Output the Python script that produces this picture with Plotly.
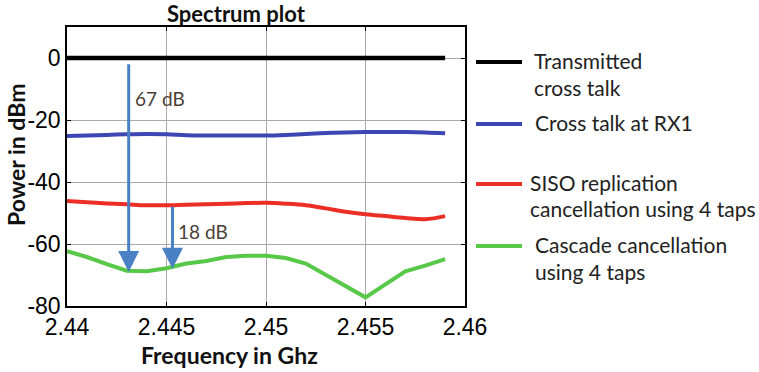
import plotly.graph_objects as go

# ---- data ----
freq_tx = [2.44, 2.445, 2.45, 2.455, 2.459]
p_tx = [0, 0, 0, 0, 0]

freq = [2.44, 2.441, 2.442, 2.443, 2.444, 2.445, 2.446, 2.447, 2.448, 2.449,
        2.45, 2.451, 2.452, 2.453, 2.454, 2.455, 2.456, 2.457, 2.458, 2.459]
p_rx1 = [-25.2, -25.0, -24.8, -24.6, -24.5, -24.6, -24.9, -25.0, -25.0, -25.0,
         -25.0, -24.8, -24.5, -24.2, -24.0, -23.9, -23.9, -23.9, -24.0, -24.3]
p_siso = [-46.1, -46.5, -46.9, -47.2, -47.5, -47.5, -47.3, -47.2, -47.0, -46.8,
          -46.7, -47.0, -47.5, -48.5, -49.6, -50.4, -51.0, -51.6, -52.0, -51.0]
p_cascade = [-62.3, -64.2, -66.5, -68.6, -68.8, -67.8, -66.3, -65.5, -64.2, -63.8,
             -63.8, -64.5, -66.3, -70.0, -73.6, -77.2, -73.0, -68.8, -67.0, -64.9]

series_names = ["Transmitted<br>cross talk", "Cross talk at RX1",
                "SISO replication<br>cancellation using 4 taps",
                "Cascade cancellation<br>using 4 taps"]
series_colors = ["#000000", "#3d47b3", "#ec2f26", "#58c848"]

x_ticks = [2.44, 2.445, 2.45, 2.455, 2.46]
x_tick_text = ["2.44", "2.445", "2.45", "2.455", "2.46"]
y_ticks = [0, -20, -40, -60, -80]
y_tick_text = ["0", "-20", "-40", "-60", "-80"]

arrow_x = [2.4431, 2.4453]
arrow_from = [-1.5, -47.5]
arrow_to = [-69.0, -68.0]
arrow_labels = ["67 dB", "18 dB"]
label_y = [-13.0, -56.0]

# ---- figure ----
W, H = 759, 372
L, R, T, B = 67, 465, 27, 306

fig = go.Figure()
fig.add_trace(go.Scatter(x=freq_tx, y=p_tx, mode="lines",
                         line=dict(color=series_colors[0], width=4.5), name=series_names[0]))
fig.add_trace(go.Scatter(x=freq, y=p_rx1, mode="lines", line_shape="spline",
                         line=dict(color=series_colors[1], width=4), name=series_names[1]))
fig.add_trace(go.Scatter(x=freq, y=p_siso, mode="lines", line_shape="spline",
                         line=dict(color=series_colors[2], width=4), name=series_names[2]))
fig.add_trace(go.Scatter(x=freq, y=p_cascade, mode="lines",
                         line=dict(color=series_colors[3], width=4), name=series_names[3]))

arrow_color = "#4a80c4"
label_color = "#4a4036"
annotations = []
for xa, y0, y1, lab, ly in zip(arrow_x, arrow_from, arrow_to, arrow_labels, label_y):
    annotations.append(dict(x=xa, y=y1, ax=xa, ay=y0, xref="x", yref="y", axref="x", ayref="y",
                            showarrow=True, arrowhead=2, arrowsize=1.4, arrowwidth=3,
                            arrowcolor=arrow_color, text=""))
    annotations.append(dict(x=xa, y=ly, xref="x", yref="y", text=lab, showarrow=False,
                            xanchor="left", yanchor="middle", xshift=4,
                            font=dict(family="Lato", size=19, color=label_color)))


def px_x(p):
    return (p - L) / (R - L)


def px_y(p):
    return (B - p) / (B - T)


title_font = dict(family="Lato", size=23, color="#111")
# title & axis titles
annotations.append(dict(x=px_x(236), y=px_y(14), xref="paper", yref="paper",
                        xanchor="center", yanchor="middle",
                        text="<b>Spectrum plot</b>", showarrow=False,
                        font=dict(family="Lato", size=22, color="#111")))
annotations.append(dict(x=px_x(229), y=px_y(355), xref="paper", yref="paper",
                        xanchor="center", yanchor="middle",
                        text="<b>Frequency in Ghz</b>", showarrow=False, font=title_font))
annotations.append(dict(x=px_x(16), y=px_y(155), xref="paper", yref="paper",
                        xanchor="center", yanchor="middle",
                        text="<b>Power in dBm</b>", showarrow=False, textangle=-90,
                        font=title_font))

# manual legend
leg_line_y = [62, 124, 184, 246]
leg_text_x = [532, 533, 528, 533]
shapes = []
for name, col, ly, tx in zip(series_names, series_colors, leg_line_y, leg_text_x):
    shapes.append(dict(type="line", xref="paper", yref="paper",
                       x0=px_x(476), x1=px_x(522), y0=px_y(ly), y1=px_y(ly),
                       line=dict(color=col, width=4)))
    for i, part in enumerate(name.split("<br>")):
        annotations.append(dict(x=px_x(tx), y=px_y(ly - 2 + 27 * i), xref="paper", yref="paper",
                                text=part, showarrow=False, xanchor="left", yanchor="middle",
                                font=dict(family="Lato", size=21, color="#222")))

axis_common = dict(showline=True, linecolor="#000", linewidth=1.5, mirror="ticks",
                   ticks="inside", ticklen=4, tickcolor="#000",
                   showgrid=True, gridcolor="#aaaaaa", gridwidth=1, zeroline=False,
                   tickfont=dict(family="Liberation Sans", size=23, color="#000"))

fig.update_layout(
    width=W, height=H,
    margin=dict(l=L, r=W - R, t=T, b=H - B),
    plot_bgcolor="white", paper_bgcolor="white",
    showlegend=False,
    xaxis=dict(range=[2.44, 2.46], tickvals=x_ticks, ticktext=x_tick_text,
               ticklabelstandoff=0, **axis_common),
    yaxis=dict(range=[-80, 10], tickvals=y_ticks, ticktext=y_tick_text,
               ticklabelstandoff=0, **axis_common),
    annotations=annotations,
    shapes=shapes,
)

fig.write_html("out.html")
